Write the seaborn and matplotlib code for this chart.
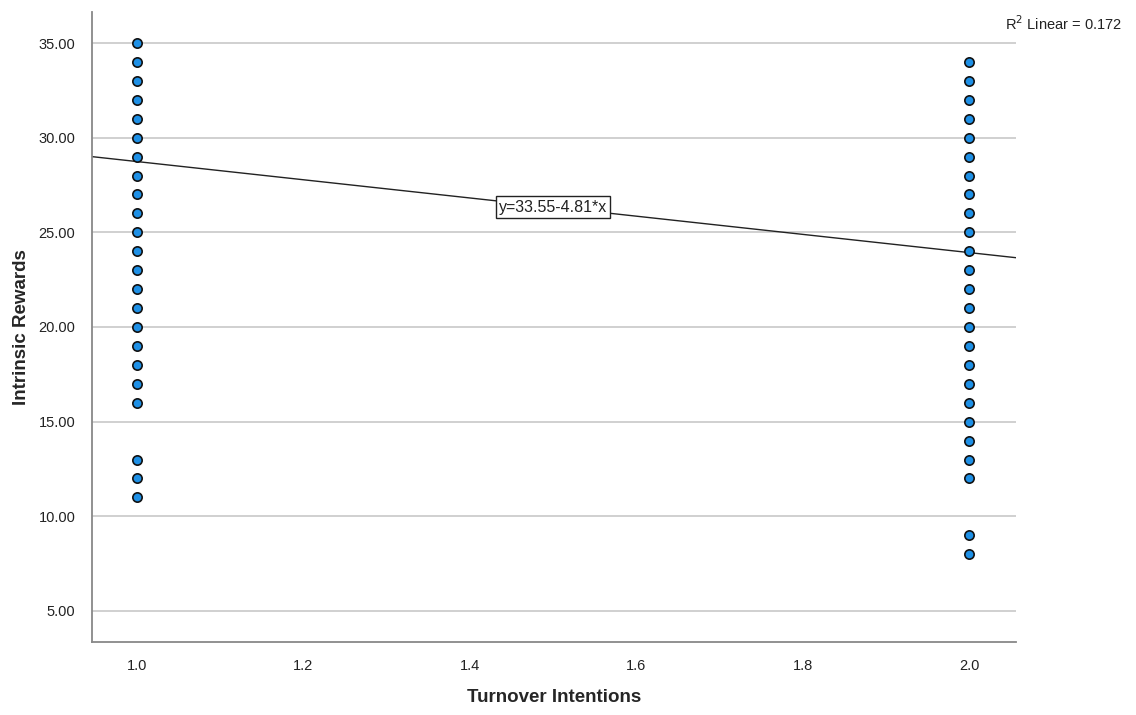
import numpy as np
import pandas as pd
import matplotlib
matplotlib.use("Agg")
import matplotlib.pyplot as plt
import seaborn as sns

# valores
leave_1 = [35, 34, 33, 32, 31, 30, 29, 28, 27, 26, 25, 24, 23, 22, 21, 20,
           19, 18, 17, 16, 13, 12, 11]
leave_2 = [34, 33, 32, 31, 30, 29, 28, 27, 26, 25, 24, 23, 22, 21, 20, 19,
           18, 17, 16, 15, 14, 13, 12, 9, 8]
intercept = 33.55
slope = -4.81
r2 = 0.172

df = pd.DataFrame({
    "Turnover Intentions": [1.0] * len(leave_1) + [2.0] * len(leave_2),
    "Intrinsic Rewards": leave_1 + leave_2,
})

sns.set_style("white")
plt.rcParams['font.family'] = ['Liberation Sans', 'DejaVu Sans']

fig = plt.figure(figsize=(11.36, 7.15), dpi=100)
ax = fig.add_axes([92 / 1136, 1 - 642 / 715, (1016 - 92) / 1136, (642 - 12) / 715])

ax.set_xlim(0.946, 2.056)
ax.set_ylim(3.36, 36.64)
ax.set_yticks(np.arange(5, 36, 5))
ax.set_xticks(np.arange(1.0, 2.01, 0.2))
ax.set_yticklabels(["%.2f" % v for v in np.arange(5, 36, 5)])
ax.set_xticklabels(["%.1f" % v for v in np.arange(1.0, 2.01, 0.2)])
ax.yaxis.grid(True, color="#c8c8c8", linewidth=1.2)
ax.set_axisbelow(True)

ax.axline((0, intercept), slope=slope, color="#222222", linewidth=1, zorder=2)

sns.scatterplot(data=df, x="Turnover Intentions", y="Intrinsic Rewards", ax=ax,
                color="#1e90e6", edgecolor="#111111", linewidth=1.2, s=45, zorder=3)

ax.text(1.5, intercept + slope * 1.5, "y=33.55-4.81*x", ha="center", va="center",
        fontsize=11.5, color="#222222", zorder=4,
        bbox=dict(boxstyle="square,pad=0.2", facecolor="white", edgecolor="#222222", linewidth=1))

fig.text(1005 / 1136, 1 - 24 / 715, "R$^2$ Linear = %.3f" % r2, fontsize=10.5,
         ha="left", va="center", color="#222222")

for side in ["top", "right"]:
    ax.spines[side].set_visible(False)
for side in ["left", "bottom"]:
    ax.spines[side].set_color("#888888")
    ax.spines[side].set_linewidth(1.3)

ax.tick_params(axis="both", length=0, labelsize=10.5, colors="#222222", pad=12)
ax.set_xlabel("Turnover Intentions", fontsize=13.5, fontweight="bold", labelpad=12)
ax.set_ylabel("Intrinsic Rewards", fontsize=13.5, fontweight="bold", labelpad=6)

fig.savefig("out.png", dpi=100)
